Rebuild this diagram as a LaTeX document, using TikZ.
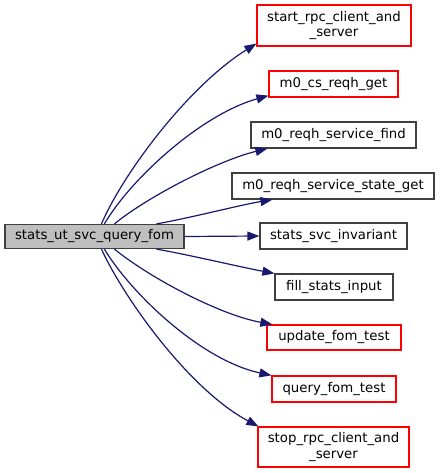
\documentclass[tikz,border=0pt]{standalone}
\usepackage{fontspec}
\setmainfont{DejaVu Sans}
\usetikzlibrary{arrows.meta}
\definecolor{edgeblue}{HTML}{191970}
\definecolor{boxred}{HTML}{FF0000}
\definecolor{boxgray}{HTML}{404040}
\tikzset{
  fn/.style={draw=boxgray, line width=1.2pt, fill=white, inner sep=0pt, align=center,
    font=\fontsize{13.3}{15.5}\selectfont, minimum height=26pt},
  fnred/.style={fn, draw=boxred},
  fnmain/.style={fn, fill=black!25},
  call/.style={draw=edgeblue, line width=1.2pt, -{Triangle[length=12pt,width=9pt]}, fill=none}
}
\begin{document}
\begin{tikzpicture}[x=1pt,y=-1pt]
\useasboundingbox (0,0) rectangle (440,473);
\node[fnmain, minimum width=179pt, minimum height=24pt] (main) at (94.5,236.5) {stats\_ut\_svc\_query\_fom};
\node[fnred, minimum width=154pt, minimum height=41pt] (start) at (334,25.5) {start\_rpc\_client\_and\\\_server};
\node[fnred, minimum width=129pt] (cs) at (333.5,84) {m0\_cs\_reqh\_get};
\node[fn, minimum width=165pt] (find) at (333.5,135) {m0\_reqh\_service\_find};
\node[fn, minimum width=202pt] (state) at (333,186) {m0\_reqh\_service\_state\_get};
\node[fn, minimum width=147pt] (inv) at (333.5,236) {stats\_svc\_invariant};
\node[fn, minimum width=118pt] (fill) at (334,287) {fill\_stats\_input};
\node[fnred, minimum width=134pt, minimum height=25pt] (update) at (334,337.5) {update\_fom\_test};
\node[fnred, minimum width=124pt] (query) at (334,389) {query\_fom\_test};
\node[fnred, minimum width=151pt, minimum height=40pt] (stop) at (333.5,447) {stop\_rpc\_client\_and\\\_server};

\draw[call] ([xshift=97pt]main.north west) .. controls (125,170) and (190,85) .. ([yshift=3pt]start.south west);
\draw[call] ([xshift=100pt]main.north west) .. controls (130,180) and (200,115) .. ([yshift=2pt]cs.south west);
\draw[call] ([xshift=110pt]main.north west) .. controls (150,195) and (220,160) .. ([xshift=17pt]find.south west);
\draw[call] ([xshift=152pt]main.north west) .. controls (190,218) and (240,205) .. ([xshift=41pt]state.south west);
\draw[call] (main.east) -- (inv.west);
\draw[call] ([xshift=152pt]main.south west) .. controls (190,255) and (240,267) .. (fill.north west);
\draw[call] ([xshift=110pt]main.south west) .. controls (150,278) and (220,315) .. ([xshift=6pt]update.north west);
\draw[call] ([xshift=100pt]main.south west) .. controls (130,292) and (200,360) .. (query.north west);
\draw[call] ([xshift=97pt]main.south west) .. controls (125,300) and (190,390) .. ([xshift=1pt]stop.north west);
\end{tikzpicture}
\end{document}
